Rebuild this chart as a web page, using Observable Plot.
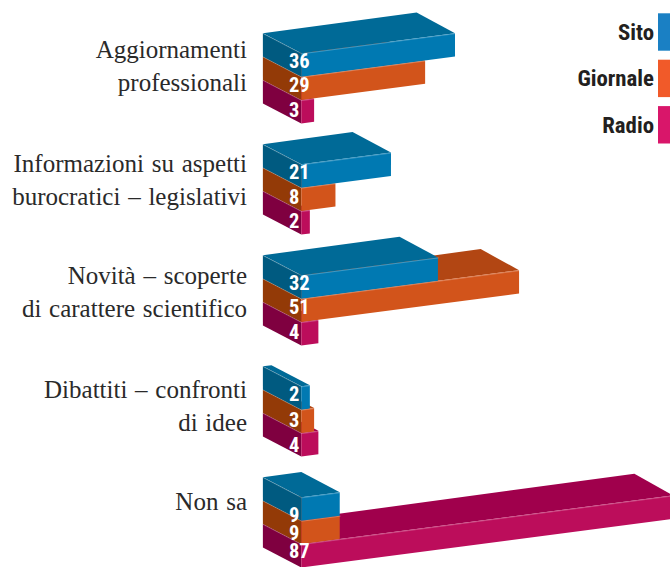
<!DOCTYPE html>
<html><head><meta charset="utf-8">
<script src="https://cdn.jsdelivr.net/npm/d3@7"></script>
<script src="https://cdn.jsdelivr.net/npm/@observablehq/plot@0.6"></script>
<style>html,body{margin:0;padding:0;background:#fff}svg{display:block}</style>
</head><body><div id="chart"></div>
<script>
const categories = ["Aggiornamenti\nprofessionali","Informazioni su aspetti\nburocratici – legislativi","Novità – scoperte\ndi carattere scientifico","Dibattiti – confronti\ndi idee","Non sa"];
const seriesNames = ["Sito","Giornale","Radio"];
const sito = [36,21,32,2,9];
const giornale = [29,8,51,3,9];
const radio = [3,2,4,4,87];
const frontColors = ["#0079b2","#d2541b","#bc0d5b"];
const topColors = ["#006a97","#b24613","#a0004c"];
const sideColors = ["#005a80","#933a07","#7f0040"];
const legendColors = ["#1a80c4","#f15a29","#d9166a"];
const categoryY = [63,177,289,403,499];
const labelDy = [[8,8,10],[8,9,10],[8,8,10],[8,10,12],[18,12,7]];

const values = [sito, giornale, radio];
const pxPerUnit = 4.27, originX = 301.3;
const toX = px => (px - originX) / pxPerUnit;
const depthX = 38.4 / pxPerUnit, depthY = 20, barH = 23.4, rise = 0.56, backRise = 0.58;
const groupStep = 111, seriesStep = 23.4, firstY = 53.3;

const faces = [], edges = [], labels = [];
categories.forEach((c, g) => {
  for (let s = 2; s >= 0; s--) {
    const v = values[s][g], Y = firstY + groupStep * g + seriesStep * s;
    const id = `${g}-${s}`;
    for (const t of [0, v]) faces.push({id: id + "t", fill: topColors[s], x1: t - depthX, y1: Y - depthY - backRise * t, x2: t, y2: Y - rise * t});
    for (const [x, y] of [[-depthX, Y - depthY], [0, Y]]) faces.push({id: id + "s", fill: sideColors[s], x1: x, y1: y, x2: x, y2: y + barH});
    for (const t of [0, v]) faces.push({id: id + "f", fill: frontColors[s], x1: t, y1: Y - rise * t, x2: t, y2: Y + barH - rise * t});
    for (const [x, y] of [[-depthX, Y - depthY], [0, Y], [v, Y - rise * v]]) edges.push({id, x, y});
    labels.push({text: String(v), x: toX(288.5), y: Y + labelDy[g][s]});
  }
});
const legend = seriesNames.map((name, i) => ({name, fill: legendColors[i], y1: 13.3 + 46.4 * i, y2: 50.7 + 46.4 * i}));
const narrow = "'Liberation Sans Narrow','Roboto Condensed','Open Sans',sans-serif";

const plot = Plot.plot({
  width: 670, height: 567, margin: 0,
  x: {type: "linear", domain: [toX(0), toX(670)], range: [0, 670], axis: null},
  y: {type: "linear", domain: [0, 567], range: [0, 567], axis: null},
  style: {background: "#fff"},
  marks: [
    Plot.area(faces, {x1: "x1", y1: "y1", x2: "x2", y2: "y2", z: "id", fill: "fill"}),
    Plot.line(edges, {x: "x", y: "y", z: "id", stroke: "#fff", strokeOpacity: 0.35, strokeWidth: 0.7}),
    Plot.text(labels, {x: "x", y: "y", text: "text", textAnchor: "start", fill: "#fff", fontFamily: narrow, fontWeight: "bold", fontSize: 20.5}),
    Plot.text(categories, {x: toX(246.5), y: (d, i) => categoryY[i], text: d => d, textAnchor: "end", lineAnchor: "middle", lineHeight: 33 / 25, fill: "#2a2a2a", fontFamily: "'Liberation Serif',serif", fontSize: 25}),
    Plot.rect(legend, {x1: toX(658), x2: toX(670), y1: "y1", y2: "y2", fill: "fill"}),
    Plot.text(legend, {x: toX(653.5), y: d => (d.y1 + d.y2) / 2, text: "name", textAnchor: "end", fill: "#231f20", fontFamily: narrow, fontWeight: "bold", fontSize: 22.8})
  ]
});
plot.querySelectorAll('g[aria-label="text"]')[1].style.wordSpacing = "1.5px";
document.getElementById("chart").append(plot);
</script></body></html>
